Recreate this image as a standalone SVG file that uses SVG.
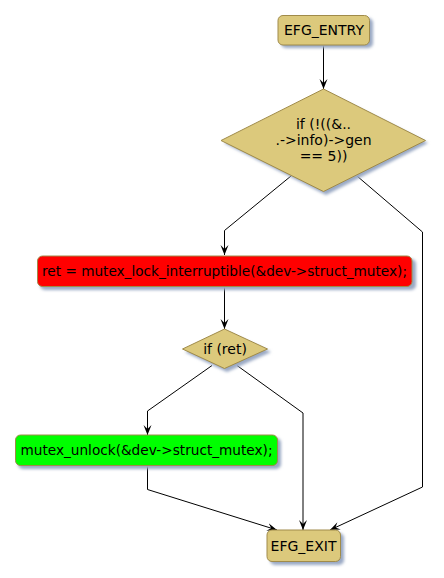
<svg xmlns="http://www.w3.org/2000/svg" width="444" height="578" viewBox="0 0 444 578">
<defs>
<filter id="sh" x="-10%" y="-10%" width="130%" height="140%">
<feGaussianBlur stdDeviation="1.5"/>
</filter>
<marker id="arr" viewBox="0 0 10 10" refX="10" refY="5" markerWidth="10" markerHeight="10" markerUnits="userSpaceOnUse" orient="auto">
<path d="M0,1 L10,5 L0,9 L4,5 Z" fill="#000"/>
</marker>
</defs>
<style>
.node{fill:#dcc97c;stroke:#a08b4a;stroke-width:1}
.shadow{fill:#9aa9c4;filter:url(#sh)}
.t{font-family:"DejaVu Sans",sans-serif;font-size:14px;fill:#000;text-anchor:middle}
.c{fill:none;stroke:#000;stroke-width:1;marker-end:url(#arr)}
</style>
<g id="connectors">
<path class="c" d="M323.5,45 L323.5,89"/>
<path class="c" d="M291,176 L224.5,230.5 L224.5,255"/>
<path class="c" d="M357,176 L422.5,232 L422.5,487 L330,530"/>
<path class="c" d="M224.5,287 L224.5,329"/>
<path class="c" d="M212,365.5 L147.5,411 L147.5,435"/>
<path class="c" d="M237,365.5 L303,413 L303,530"/>
<path class="c" d="M147.5,466 L147.5,489.5 L277,530"/>
</g>
<g id="entry">
<rect class="shadow" x="281" y="18" width="92" height="30" rx="5"/>
<rect class="node" x="278" y="15.5" width="91.5" height="29.5" rx="5"/>
<text class="t" x="324" y="35">EFG_ENTRY</text>
</g>
<g id="cond1">
<polygon class="shadow" points="326,92 428,143 326,195 224,143"/>
<polygon class="node" points="323.5,89 425.5,140.5 323.5,191.5 221,140.5"/>
<text class="t" x="323.5" y="129">if (!((&amp;..</text>
<text class="t" x="323.5" y="145">.-&gt;info)-&gt;gen</text>
<text class="t" x="323.5" y="161">== 5))</text>
</g>
<g id="lock">
<rect class="shadow" x="40" y="259" width="376" height="31" rx="5"/>
<rect x="37.5" y="256" width="374.5" height="30.5" rx="5" fill="#ff0000" stroke="#a08b4a"/>
<text class="t" x="224.5" y="276" textLength="365" lengthAdjust="spacingAndGlyphs">ret = mutex_lock_interruptible(&amp;dev-&gt;struct_mutex);</text>
</g>
<g id="cond2">
<polygon class="shadow" points="227,332 271,352 227,372 185,352"/>
<polygon class="node" points="224.5,329 267.5,349 224.5,368.5 182.5,349"/>
<text class="t" x="225" y="354">if (ret)</text>
</g>
<g id="unlock">
<rect class="shadow" x="18" y="438" width="263" height="31" rx="5"/>
<rect x="15.5" y="435" width="262" height="30.5" rx="5" fill="#00ff00" stroke="#a08b4a"/>
<text class="t" x="146.5" y="455" textLength="252" lengthAdjust="spacingAndGlyphs">mutex_unlock(&amp;dev-&gt;struct_mutex);</text>
</g>
<g id="exit">
<rect class="shadow" x="270" y="533" width="74" height="32" rx="5"/>
<rect class="node" x="267" y="530" width="73.5" height="31.5" rx="5"/>
<text class="t" x="303.5" y="551">EFG_EXIT</text>
</g>
</svg>
